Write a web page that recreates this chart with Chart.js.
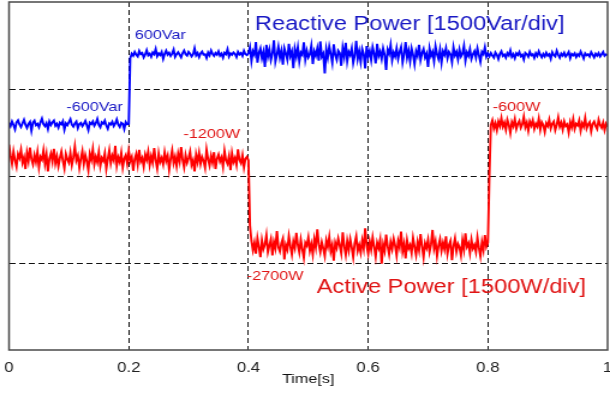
<!DOCTYPE html>
<html><head><meta charset="utf-8">
<script src="https://cdn.jsdelivr.net/npm/chart.js@4/dist/chart.umd.min.js"></script>
<style>html,body{margin:0;padding:0;background:#fff;overflow:hidden}</style>
</head><body>
<canvas id="c" width="508" height="398" style="display:block;width:610px;height:398px"></canvas>
<script>
// ---- data ----
const samplePeriod = 0.0025;           // s
const xTicks = [0, 0.2, 0.4, 0.6, 0.8, 1];
const yGridVar = [-4500, -3000, -1500, 0, 1500]; // 1500 per division

const reactivePowerVar = [
-585,-640,-560,-620,-695,-575,-540,-610,-655,-590,
-530,-615,-670,-600,-565,-720,-580,-545,-625,-600,
-660,-575,-510,-605,-640,-590,-690,-560,-620,-575,
-545,-635,-600,-665,-580,-610,-555,-700,-590,-625,
-570,-520,-615,-650,-595,-560,-675,-605,-585,-640,
-600,-550,-625,-710,-580,-605,-560,-635,-590,-515,
-620,-660,-575,-600,-545,-630,-685,-590,-610,-565,
-640,-595,-525,-615,-655,-580,-600,-690,-570,-610,
-600,
530,610,575,640,590,560,655,600,620,545,
595,670,580,610,555,630,600,690,565,615,
585,640,520,605,660,590,625,570,610,680,
555,600,635,590,545,620,665,600,575,640,
610,560,595,700,580,620,550,615,645,590,
600,535,630,580,665,605,570,620,590,650,
575,610,540,625,600,685,560,615,590,630,
605,550,640,595,620,570,660,600,585,615,
720,480,650,590,810,455,620,700,530,640,
380,760,560,680,500,615,840,470,590,730,
540,660,420,700,610,505,780,570,650,360,
690,560,720,475,630,590,805,510,660,545,
600,745,430,650,575,700,490,820,560,610,
270,680,540,730,600,455,770,590,505,660,
620,400,710,560,795,480,640,585,700,450,
580,830,520,650,470,690,600,355,740,560,
655,500,720,610,440,780,570,645,520,700,
590,330,680,610,760,495,630,560,700,520,
640,725,460,600,810,540,660,480,700,590,
430,650,570,760,500,620,690,545,610,380,
700,570,640,480,735,600,520,680,455,650,
590,705,530,640,600,465,720,580,640,510,
680,560,610,745,490,630,570,690,520,600,
650,540,700,585,470,640,600,720,555,610,
560,620,575,540,630,590,515,605,650,570,
595,540,620,580,665,555,600,530,615,585,
640,565,590,510,625,600,555,640,580,600,
535,615,570,650,590,545,605,560,625,575,
600,520,635,585,560,660,590,540,610,575,
625,560,595,640,530,605,580,615,550,600,
570,645,590,525,615,580,600,560,635,590,
545,610,575,620,560,600,640,570,595,585
];

const activePowerW = [
-960,-1150,-1290,-1080,-1230,-1340,-1120,-1190,-1050,-1270,
-1180,-1380,-1100,-1240,-1010,-1210,-1300,-1140,-1260,-1090,
-1350,-1170,-1220,-1060,-1290,-1130,-1420,-1200,-1110,-1250,
-1030,-1280,-1160,-1330,-1190,-1080,-1240,-1370,-1120,-1210,
-1270,-1100,-1310,-1180,-990,-1230,-1150,-1360,-1200,-1070,
-1290,-1140,-1250,-1400,-1120,-1220,-1040,-1300,-1170,-1260,
-1090,-1330,-1190,-1240,-1110,-1380,-1210,-1060,-1280,-1150,
-1230,-980,-1320,-1180,-1260,-1100,-1350,-1200,-1140,-1290,
-1070,-1240,-1170,-1410,-1210,-1120,-1300,-1050,-1250,-1190,
-1340,-1130,-1220,-1080,-1310,-1160,-1270,-1020,-1230,-1370,
-1110,-1260,-1190,-1300,-1090,-1240,-1150,-1390,-1200,-1060,
-1280,-1170,-1330,-1120,-1250,-1000,-1220,-1350,-1140,-1270,
-1190,-1080,-1310,-1230,-1420,-1130,-1260,-1100,-1290,-1170,
-1240,-1360,-1050,-1210,-1320,-1150,-1270,-1090,-1380,-1200,
-1130,-1250,-1180,-1340,-1070,-1230,-1290,-1160,-1400,-1110,
-1260,-1190,-1310,-1040,-1220,-1280,-1140,-1350,-1200,-1170,
-1230,
-2350,-2620,-2780,-2650,-2840,-2570,-2720,-2900,-2610,-2760,
-2680,-2520,-2810,-2700,-2590,-2870,-2640,-2750,-2450,-2730,
-2800,-2660,-2580,-2940,-2690,-2770,-2540,-2710,-2850,-2630,
-2740,-2480,-2690,-2820,-2600,-2760,-2910,-2650,-2700,-2560,
-2790,-2670,-2850,-2590,-2730,-2420,-2680,-2810,-2640,-2750,
-2880,-2610,-2720,-2550,-2800,-2690,-2960,-2650,-2740,-2580,
-2700,-2830,-2470,-2710,-2860,-2620,-2780,-2590,-2730,-2900,
-2660,-2540,-2790,-2690,-2820,-2610,-2750,-2400,-2700,-2840,
-2630,-2770,-2560,-2720,-2890,-2650,-2740,-2600,-3010,-2680,
-2790,-2510,-2710,-2850,-2640,-2760,-2580,-2700,-2870,-2620,
-2730,-2460,-2800,-2670,-2920,-2610,-2750,-2690,-2830,-2570,
-2720,-2860,-2640,-2780,-2500,-2710,-2900,-2660,-2740,-2600,
-2810,-2680,-2430,-2750,-2630,-2880,-2700,-2590,-2790,-2650,
-2760,-2540,-2840,-2690,-2620,-2950,-2710,-2580,-2800,-2670,
-2730,-2870,-2610,-2770,-2490,-2720,-2660,-2830,-2600,-2750,
-2690,-2810,-2560,-2740,-2880,-2640,-2780,-2520,-2720,-2650,
-1500,-620,-540,-680,-590,-710,-560,-640,-500,-650,
-580,-700,-530,-620,-760,-570,-640,-520,-690,-600,
-550,-670,-610,-480,-660,-580,-720,-560,-630,-540,
-690,-600,-650,-510,-700,-570,-620,-740,-590,-640,
-530,-680,-600,-560,-710,-620,-490,-650,-580,-700,
-560,-640,-610,-750,-570,-660,-520,-690,-600,-630,
-540,-720,-590,-650,-500,-680,-610,-570,-730,-600,
-560,-640,-690,-530,-620,-670,-580,-710,-600,-650
];

const annotationTexts = ['600Var', '-600Var', 'Reactive Power [1500Var/div]', '-1200W', '-600W', '-2700W', 'Active Power [1500W/div]'];

// ---- chart ----
const BLUE = '#0000ff', RED = '#ff0000', BLUE_T = '#1818c4', RED_T = '#e01414';
const FONT = '"Liberation Sans", Arial, Helvetica, sans-serif';
const annotations = [
  {text: annotationTexts[0], t: 0.210, v: 862,   align: 'left',  size: 13.5, color: BLUE_T},
  {text: annotationTexts[1], t: 0.190, v: -379,  align: 'right', size: 13.5, color: BLUE_T},
  {text: annotationTexts[2], t: 0.4107, v: 1017, align: 'left',  size: 19.7, color: BLUE_T},
  {text: annotationTexts[3], t: 0.386, v: -845,  align: 'right', size: 13.5, color: RED_T},
  {text: annotationTexts[4], t: 0.808, v: -379,  align: 'left',  size: 13.5, color: RED_T},
  {text: annotationTexts[5], t: 0.397, v: -3293, align: 'left',  size: 13.5, color: RED_T},
  {text: annotationTexts[6], t: 0.514, v: -3517, align: 'left',  size: 19.7, color: RED_T}
];

const toPoints = arr => arr.map((v, i) => ({x: i * samplePeriod, y: v}));

const textPlugin = {
  id: 'texts',
  afterDatasetsDraw(chart) {
    const {ctx, scales: {x, y}} = chart;
    ctx.save();
    annotations.forEach(a => {
      ctx.font = `${a.size}px ${FONT}`;
      ctx.fillStyle = a.color;
      ctx.textAlign = a.align;
      ctx.textBaseline = 'alphabetic';
      ctx.fillText(a.text, x.getPixelForValue(a.t), y.getPixelForValue(a.v));
    });
    ctx.restore();
  }
};
const framePlugin = {
  id: 'frame',
  afterDraw(chart) {
    const {ctx, chartArea: ca} = chart;
    ctx.save();
    ctx.strokeStyle = '#4a4a4a';
    ctx.lineWidth = 1.5;
    ctx.strokeRect(ca.left, ca.top, ca.right - ca.left, ca.bottom - ca.top);
    ctx.restore();
  }
};

const gridColor = (min, max) => c => (c.tick && (c.tick.value === min || c.tick.value === max)) ? 'rgba(0,0,0,0)' : '#111';

new Chart(document.getElementById('c'), {
  type: 'line',
  data: {
    datasets: [
      {label: 'Reactive Power', data: toPoints(reactivePowerVar), borderColor: BLUE, borderWidth: 1.9, pointRadius: 0, tension: 0},
      {label: 'Active Power', data: toPoints(activePowerW), borderColor: RED, borderWidth: 1.9, pointRadius: 0, tension: 0}
    ]
  },
  options: {
    responsive: false,
    devicePixelRatio: 1,
    animation: false,
    events: [],
    layout: {padding: {left: 7.5, right: 2, top: 2, bottom: 0}},
    plugins: {legend: {display: false}, tooltip: {enabled: false}},
    scales: {
      x: {
        type: 'linear', min: 0, max: 1,
        afterBuildTicks: s => { s.ticks = xTicks.map(v => ({value: v})); },
        afterFit: s => { s.height = 48; s.paddingLeft = 0; s.paddingRight = 0; },
        grid: {color: gridColor(0, 1), lineWidth: 1, drawTicks: false},
        border: {display: false, dash: [5, 3]},
        ticks: {padding: 9.6, color: '#222', font: {family: FONT, size: 14}, maxRotation: 0,
                callback: v => String(v)},
        title: {display: true, text: 'Time[s]', color: '#111', font: {family: FONT, size: 13.5}, padding: {top: 0, bottom: 10.5}}
      },
      y: {
        type: 'linear', min: -4500, max: 1500,
        afterBuildTicks: s => { s.ticks = yGridVar.map(v => ({value: v})); },
        grid: {color: gridColor(-4500, 1500), lineWidth: 1, drawTicks: false},
        border: {display: false, dash: [5, 3]},
        ticks: {display: false}
      }
    }
  },
  plugins: [textPlugin, framePlugin]
});
</script>
</body></html>
